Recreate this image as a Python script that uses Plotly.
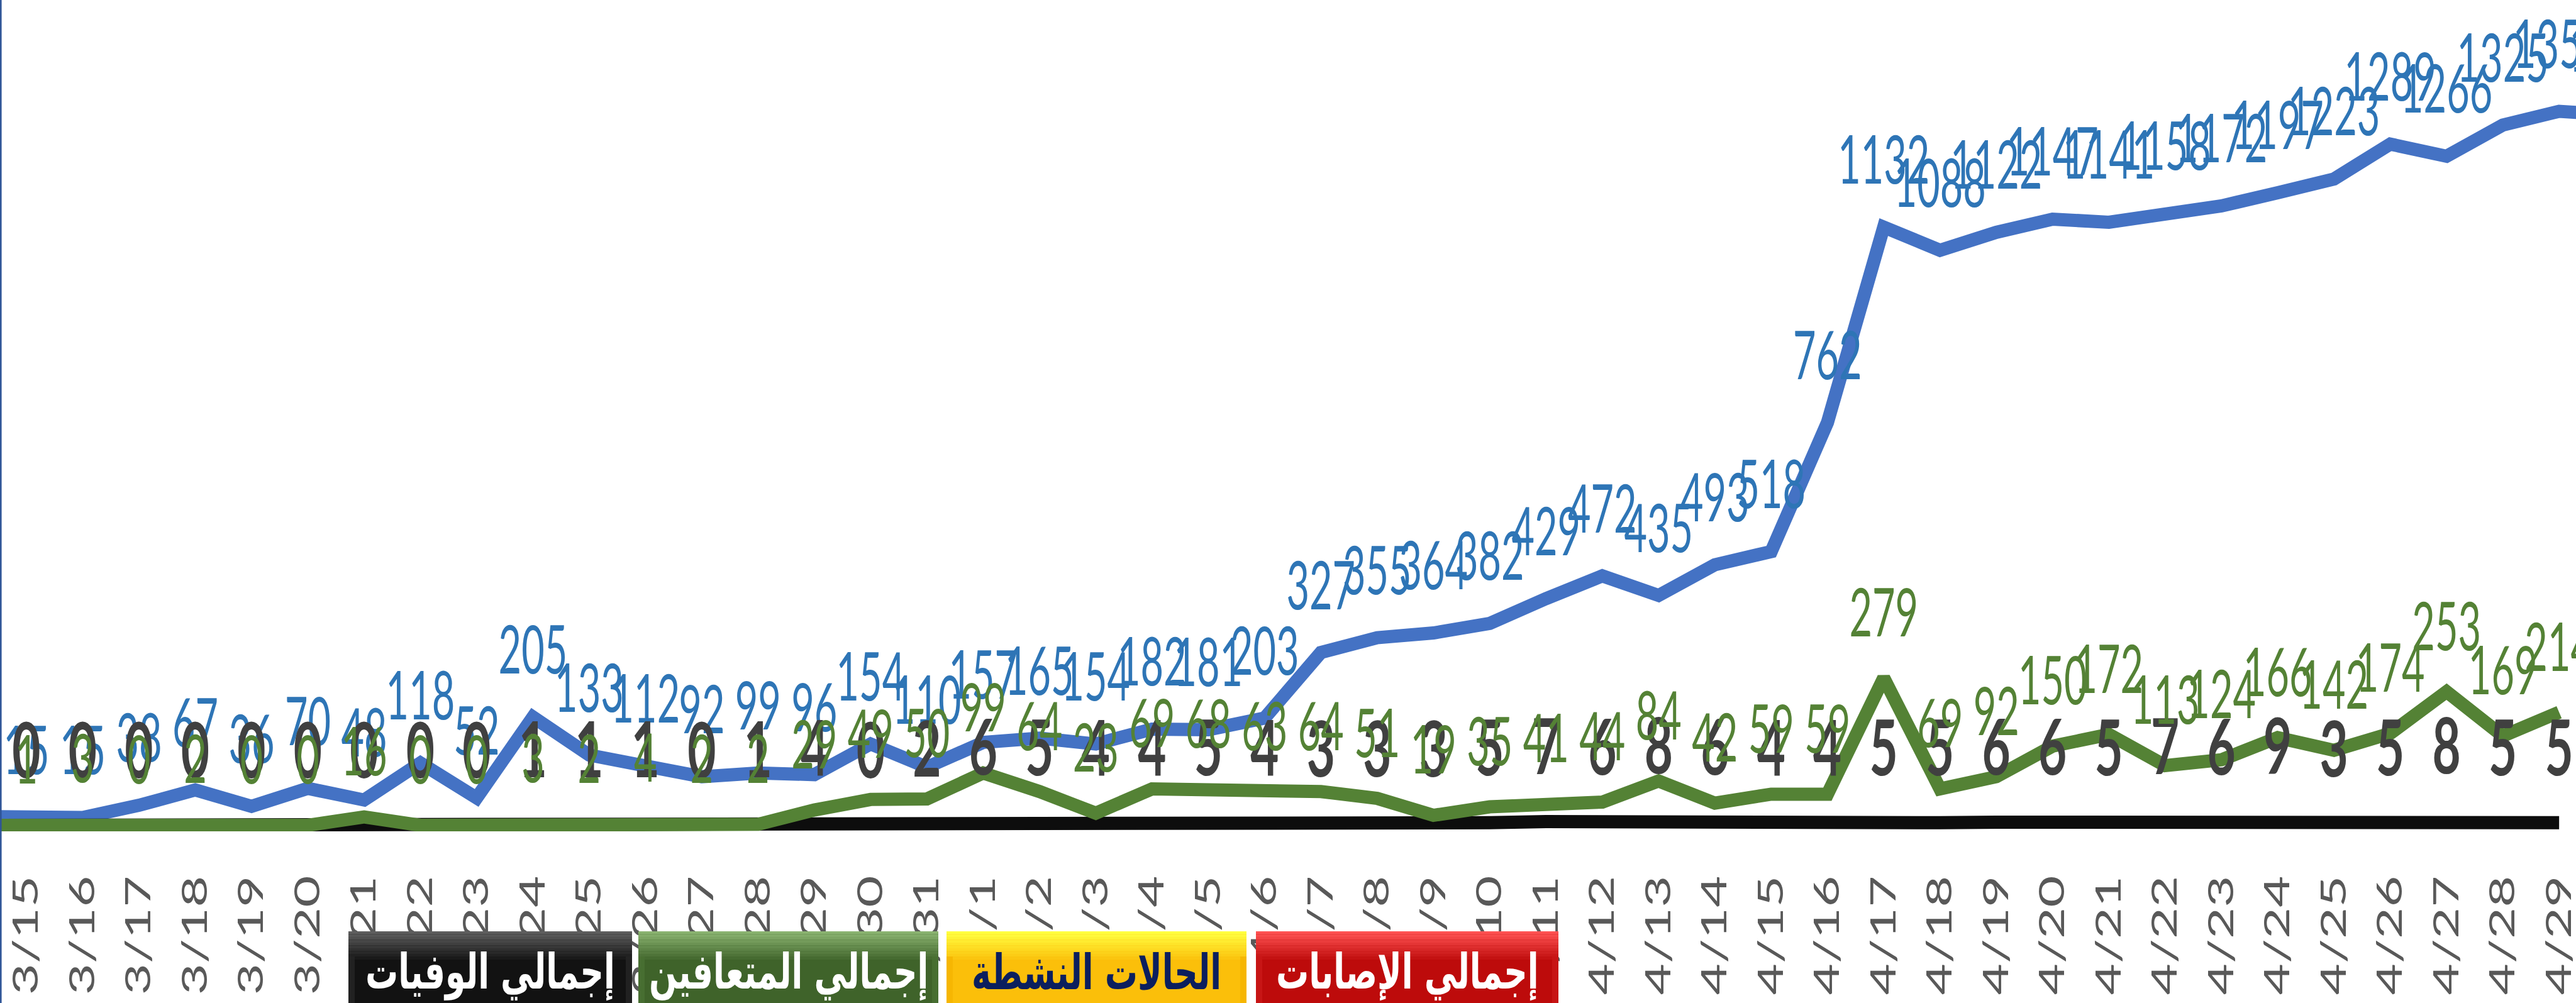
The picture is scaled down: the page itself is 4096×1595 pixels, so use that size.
import plotly.graph_objects as go

# ---------------- data ----------------
dates = ["3/14", "3/15", "3/16", "3/17", "3/18", "3/19", "3/20", "3/21", "3/22", "3/23",
         "3/24", "3/25", "3/26", "3/27", "3/28", "3/29", "3/30", "3/31",
         "4/1", "4/2", "4/3", "4/4", "4/5", "4/6", "4/7", "4/8", "4/9", "4/10",
         "4/11", "4/12", "4/13", "4/14", "4/15", "4/16", "4/17", "4/18", "4/19", "4/20",
         "4/21", "4/22", "4/23", "4/24", "4/25", "4/26", "4/27", "4/28", "4/29", "4/30"]

new_cases = [17, 15, 15, 38, 67, 36, 70, 48, 118, 52,
             205, 133, 112, 92, 99, 96, 154, 110,
             157, 165, 154, 182, 181, 203, 327, 355, 364, 382,
             429, 472, 435, 493, 518, 762, 1132, 1088, 1122, 1147,
             1141, 1158, 1172, 1197, 1223, 1289, 1266, 1325, 1351, 1344]

recovered = [0, 1, 3, 0, 2, 0, 0, 16, 0, 0,
             3, 2, 4, 2, 2, 29, 49, 50,
             99, 64, 23, 69, 68, 63, 64, 51, 19, 35,
             41, 44, 84, 42, 59, 59, 279, 69, 92, 150,
             172, 113, 124, 166, 142, 174, 253, 169, 214, None]

deaths = [0, 0, 0, 0, 0, 0, 0, 0, 0, 0,
          1, 1, 1, 0, 1, 4, 0, 2,
          6, 5, 4, 4, 5, 4, 3, 3, 3, 5,
          7, 6, 8, 6, 4, 4, 5, 5, 6, 6,
          5, 7, 6, 9, 3, 5, 8, 5, 5, None]

legend_labels = ["إجمالي الوفيات", "إجمالي المتعافين", "الحالات النشطة", "إجمالي الإصابات"]

# ---------------- geometry / style ----------------
W, H = 4096, 1595
PLOT_H = 1322
Y0, Y1 = -11.3, 1561.6
PPU = PLOT_H / (Y1 - Y0)          # pixels per unit
LW = 21

BLUE_LINE, BLUE_TXT = "#4472C4", "#2E75B6"
GREEN = "#548235"
BLACK_LINE, DARK_TXT = "#0D0D0D", "#404040"

OFF_BLUE = 102 / PPU
OFF_GREEN = 99 / PPU
OFF_DARK = 112 / PPU


def shifted(vals, off):
    return [None if v is None else v + off for v in vals]


def labels(vals):
    return ["" if v is None else str(v) for v in vals]


fig = go.Figure()
fig.add_trace(go.Scatter(x=dates, y=new_cases, mode="lines",
                         line=dict(color=BLUE_LINE, width=LW), hoverinfo="skip"))
fig.add_trace(go.Scatter(x=dates, y=deaths, mode="lines",
                         line=dict(color=BLACK_LINE, width=LW), hoverinfo="skip"))
fig.add_trace(go.Scatter(x=dates, y=recovered, mode="lines",
                         line=dict(color=GREEN, width=LW), hoverinfo="skip"))

fig.add_trace(go.Scatter(x=dates, y=shifted(new_cases, OFF_BLUE), mode="text",
                         text=labels(new_cases), textposition="middle center",
                         textfont=dict(family="Lato", size=63, color=BLUE_TXT),
                         hoverinfo="skip"))
fig.add_trace(go.Scatter(x=dates, y=shifted(deaths, OFF_DARK), mode="text",
                         text=labels(deaths), textposition="middle center",
                         textfont=dict(family="Lato", size=78, color=DARK_TXT, weight="bold"),
                         hoverinfo="skip"))
fig.add_trace(go.Scatter(x=dates, y=shifted(recovered, OFF_GREEN), mode="text",
                         text=labels(recovered), textposition="middle center",
                         textfont=dict(family="Lato", size=63, color=GREEN),
                         hoverinfo="skip"))


def pyp(ypx):
    return (PLOT_H - ypx) / PLOT_H


def pxp(xpx):
    return xpx / W


shapes = []
# left border line
shapes.append(dict(type="rect", xref="paper", yref="paper", x0=0, x1=pxp(2.6),
                   y0=pyp(H), y1=1, fillcolor="#2F5597", line=dict(width=0), layer="above"))

boxes = [
    dict(x=(554, 1005), top="#5E5E5E", base="#121212", side="#262626", txt="#FFFFFF"),
    dict(x=(1015, 1492), top="#8AB370", base="#3F632A", side="#4A7033", txt="#FFFFFF"),
    dict(x=(1505, 1982), top="#FFFF40", base="#FBBF0A", side="#F5B400", txt="#0B1F5E"),
    dict(x=(1997, 2478), top="#FF5252", base="#BD0B0B", side="#C91818", txt="#FFFFFF"),
]
BOX_TOP, BOX_BOT = 1481, H


def mix(c1, c2, t):
    a = [int(c1[i:i + 2], 16) for i in (1, 3, 5)]
    b = [int(c2[i:i + 2], 16) for i in (1, 3, 5)]
    return "#%02X%02X%02X" % tuple(round(a[k] + (b[k] - a[k]) * t) for k in range(3))


annotations = []
for b, lab in zip(boxes, legend_labels):
    x0, x1 = b["x"]
    shapes.append(dict(type="rect", xref="paper", yref="paper", x0=pxp(x0), x1=pxp(x1),
                       y0=pyp(BOX_BOT), y1=pyp(BOX_TOP), fillcolor=b["base"],
                       line=dict(width=0), layer="above"))
    nb = 10
    for i in range(nb):
        ya = BOX_TOP + i * 4.5
        shapes.append(dict(type="rect", xref="paper", yref="paper", x0=pxp(x0), x1=pxp(x1),
                           y0=pyp(ya + 4.6), y1=pyp(ya), fillcolor=mix(b["top"], b["base"], i / nb),
                           line=dict(width=0), layer="above"))
    for sx0, sx1 in ((x0, x0 + 10), (x1 - 10, x1)):
        shapes.append(dict(type="rect", xref="paper", yref="paper", x0=pxp(sx0), x1=pxp(sx1),
                           y0=pyp(BOX_BOT), y1=pyp(BOX_TOP + 40), fillcolor=b["side"],
                           line=dict(width=0), layer="above", opacity=0.8))
    annotations.append(dict(xref="paper", yref="paper", x=pxp((x0 + x1) / 2), y=pyp(1546),
                            text=lab, showarrow=False, xanchor="center", yanchor="middle",
                            font=dict(family="DejaVu Sans", size=52, color=b["txt"], weight="bold")))

fig.update_layout(
    width=W, height=H,
    margin=dict(l=0, r=0, t=0, b=H - PLOT_H, pad=0),
    paper_bgcolor="white", plot_bgcolor="white",
    showlegend=False,
    shapes=shapes, annotations=annotations,
    xaxis=dict(type="category", range=[0.531, 46.30], tickmode="array",
               tickvals=dates, ticktext=dates, tickangle=-90,
               tickfont=dict(family="Lato", size=57, color="#595959"),
               showgrid=False, zeroline=False, showline=False, ticks="",
               ticklabelstandoff=58, automargin=False, fixedrange=True),
    yaxis=dict(range=[Y0, Y1], visible=False, fixedrange=True),
)

post = """
var gd = document.getElementById('{plot_id}');
function stretchEls(els, s, mode) {
  els.forEach(function(el){
    var r = el.getBoundingClientRect();
    var m = el.parentNode.getScreenCTM();
    var Y = ((mode === 'top' ? r.top : r.top + r.height / 2) - m.f) / m.d;
    var t = el.getAttribute('transform') || '';
    el.setAttribute('transform', 'translate(0,' + Y + ') scale(1,' + s + ') translate(0,' + (-Y) + ') ' + t);
  });
}
var tr = gd.querySelectorAll('.scatterlayer .trace');
var sc = [0, 0, 0, 1.7, 1.57, 1.7];
for (var i = 0; i < tr.length; i++) {
  if (sc[i]) { stretchEls(Array.prototype.slice.call(tr[i].querySelectorAll('text')), sc[i], 'mid'); }
}
stretchEls(Array.prototype.slice.call(gd.querySelectorAll('.xtick text')), 1.52, 'top');
stretchEls(Array.prototype.slice.call(gd.querySelectorAll('.infolayer .annotation text')), 1.5, 'mid');
"""

fig.write_html("out.html", post_script=post, config={"displayModeBar": False})
